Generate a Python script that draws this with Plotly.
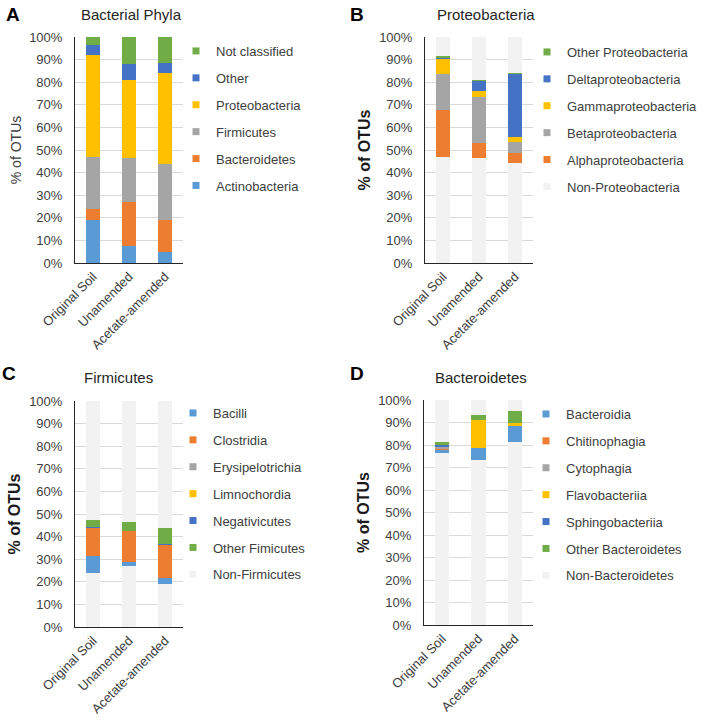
import plotly.graph_objects as go

# ---------------- data ----------------
categories = ["Original Soil", "Unamended", "Acetate-amended"]

# Panel A - Bacterial Phyla (% of OTUs), bottom to top
actinobacteria = [19.0, 7.4, 5.0]
bacteroidetes = [4.9, 19.6, 14.0]
firmicutes = [23.0, 19.3, 25.0]
proteobacteria = [45.0, 34.5, 40.0]
other_phyla = [4.4, 7.4, 4.6]
not_classified = [3.7, 11.8, 11.4]

# Panel B - Proteobacteria
non_proteo_below = [47.0, 46.6, 44.1]
alphaproteo = [20.7, 6.6, 4.4]
betaproteo = [15.8, 20.3, 5.2]
gammaproteo = [7.1, 2.6, 2.2]
deltaproteo = [0.4, 4.7, 28.0]
other_proteo = [0.6, 0.1, 0.1]
non_proteo_above = [8.4, 19.1, 16.0]

# Panel C - Firmicutes
non_firm_below = [23.9, 27.0, 19.0]
bacilli = [7.4, 1.9, 2.5]
clostridia = [12.6, 13.6, 15.2]
erysipelotrichia = [0.1, 0.0, 0.0]
limnochordia = [0.0, 0.0, 0.0]
negativicutes = [0.1, 0.0, 0.1]
other_firm = [3.1, 4.0, 7.2]
non_firm_above = [52.8, 53.5, 56.0]

# Panel D - Bacteroidetes
non_bact_below = [76.3, 73.3, 81.2]
bacteroidia = [1.8, 5.5, 7.4]
chitinophagia = [0.3, 0.0, 0.0]
cytophagia = [0.9, 0.0, 0.0]
flavobacteriia = [0.2, 12.3, 1.4]
sphingobacteriia = [0.6, 0.0, 0.0]
other_bact = [1.1, 2.1, 5.2]
non_bact_above = [18.8, 6.8, 4.8]

y_ticks = [0, 10, 20, 30, 40, 50, 60, 70, 80, 90, 100]
y_tick_labels = ["0%", "10%", "20%", "30%", "40%", "50%", "60%", "70%", "80%", "90%", "100%"]

# ---------------- styles ----------------
BLUE = "#5B9BD5"
ORANGE = "#ED7D31"
GRAY = "#A5A5A5"
GOLD = "#FFC000"
DBLUE = "#4472C4"
GREEN = "#70AD47"
LIGHT = "#F2F2F2"
FONT = "Liberation Sans, Arial, sans-serif"
TXT = "#404040"

W, H = 709, 724

panels = [
    dict(
        ax="", legend="legend", title="Bacterial Phyla", letter="A", ybold=False,
        stack=[("Actinobacteria", actinobacteria, BLUE),
               ("Bacteroidetes", bacteroidetes, ORANGE),
               ("Firmicutes", firmicutes, GRAY),
               ("Proteobacteria", proteobacteria, GOLD),
               ("Other", other_phyla, DBLUE),
               ("Not classified", not_classified, GREEN)],
        legend_order=[("Not classified", GREEN), ("Other", DBLUE),
                      ("Proteobacteria", GOLD), ("Firmicutes", GRAY),
                      ("Bacteroidetes", ORANGE), ("Actinobacteria", BLUE)],
        xdom=(75, 183), ydom=(37, 263), leg=(176, 36),
        title_pos=(131, 15), letter_pos=(13, 15),
    ),
    dict(
        ax="2", legend="legend2", title="Proteobacteria", letter="B", ybold=True,
        stack=[("Non-Proteobacteria", non_proteo_below, LIGHT),
               ("Alphaproteobacteria", alphaproteo, ORANGE),
               ("Betaproteobacteria", betaproteo, GRAY),
               ("Gammaproteobacteria", gammaproteo, GOLD),
               ("Deltaproteobacteria", deltaproteo, DBLUE),
               ("Other Proteobacteria", other_proteo, GREEN),
               ("Non-Proteobacteria", non_proteo_above, LIGHT)],
        legend_order=[("Other Proteobacteria", GREEN), ("Deltaproteobacteria", DBLUE),
                      ("Gammaproteobacteria", GOLD), ("Betaproteobacteria", GRAY),
                      ("Alphaproteobacteria", ORANGE), ("Non-Proteobacteria", LIGHT)],
        xdom=(425, 533), ydom=(37, 263), leg=(527, 37),
        title_pos=(486, 15), letter_pos=(357, 15),
    ),
    dict(
        ax="3", legend="legend3", title="Firmicutes", letter="C", ybold=True,
        stack=[("Non-Firmicutes", non_firm_below, LIGHT),
               ("Bacilli", bacilli, BLUE),
               ("Clostridia", clostridia, ORANGE),
               ("Erysipelotrichia", erysipelotrichia, GRAY),
               ("Limnochordia", limnochordia, GOLD),
               ("Negativicutes", negativicutes, DBLUE),
               ("Other Fimicutes", other_firm, GREEN),
               ("Non-Firmicutes", non_firm_above, LIGHT)],
        legend_order=[("Bacilli", BLUE), ("Clostridia", ORANGE),
                      ("Erysipelotrichia", GRAY), ("Limnochordia", GOLD),
                      ("Negativicutes", DBLUE), ("Other Fimicutes", GREEN),
                      ("Non-Firmicutes", LIGHT)],
        xdom=(75, 183), ydom=(401, 627), leg=(173, 398),
        title_pos=(118, 377), letter_pos=(9, 374),
    ),
    dict(
        ax="4", legend="legend4", title="Bacteroidetes", letter="D", ybold=True,
        stack=[("Non-Bacteroidetes", non_bact_below, LIGHT),
               ("Bacteroidia", bacteroidia, BLUE),
               ("Chitinophagia", chitinophagia, ORANGE),
               ("Cytophagia", cytophagia, GRAY),
               ("Flavobacteriia", flavobacteriia, GOLD),
               ("Sphingobacteriia", sphingobacteriia, DBLUE),
               ("Other Bacteroidetes", other_bact, GREEN),
               ("Non-Bacteroidetes", non_bact_above, LIGHT)],
        legend_order=[("Bacteroidia", BLUE), ("Chitinophagia", ORANGE),
                      ("Cytophagia", GRAY), ("Flavobacteriia", GOLD),
                      ("Sphingobacteriia", DBLUE), ("Other Bacteroidetes", GREEN),
                      ("Non-Bacteroidetes", LIGHT)],
        xdom=(424, 533), ydom=(400, 625), leg=(526, 399),
        title_pos=(481, 377), letter_pos=(357, 374),
    ),
]

fig = go.Figure()
annotations = []
layout = dict(
    width=W, height=H, margin=dict(l=0, r=0, t=0, b=0, autoexpand=False),
    paper_bgcolor="white", plot_bgcolor="white",
    barmode="stack", bargap=0.61, showlegend=True,
    font=dict(family=FONT, size=13, color=TXT),
)

for p in panels:
    xa = "x" + p["ax"]
    ya = "y" + p["ax"]
    for name, vals, col in p["stack"]:
        fig.add_trace(go.Bar(
            x=categories, y=vals, name=name, marker=dict(color=col, line=dict(width=0)),
            xaxis=xa, yaxis=ya, showlegend=False, legendgroup=p["ax"] + name,
            hovertemplate="%{x}<br>" + name + ": %{y}%<extra></extra>",
        ))
    for name, col in p["legend_order"]:
        fig.add_trace(go.Scatter(
            x=[None], y=[None], mode="markers", name=name,
            marker=dict(symbol="square", size=7, color=col),
            xaxis=xa, yaxis=ya, legend=p["legend"], legendgroup=p["ax"] + name,
            showlegend=True,
        ))
    x0, x1 = p["xdom"]
    yt, yb = p["ydom"]
    layout["xaxis" + p["ax"]] = dict(
        domain=[x0 / W, x1 / W], anchor=ya, type="category",
        categoryorder="array", categoryarray=categories,
        showline=True, linecolor="#262626", linewidth=1, showgrid=False,
        ticks="", tickangle=-45, tickfont=dict(size=13, color=TXT),
        automargin=False, fixedrange=True,
    )
    layout["yaxis" + p["ax"]] = dict(
        domain=[1 - yb / H, 1 - yt / H], anchor=xa, range=[0, 100],
        tickmode="array", tickvals=y_ticks, ticktext=y_tick_labels,
        showgrid=True, gridcolor="#D9D9D9",
        gridwidth=1, showline=True, linecolor="#262626", linewidth=1,
        zeroline=False, ticks="", ticklabelstandoff=9,
        tickfont=dict(size=13, color=TXT), automargin=False,
        title=dict(
            text="<b>% of OTUs</b>" if p["ybold"] else "% of OTUs",
            font=dict(size=16 if p["ybold"] else 14, color="#1a1a1a" if p["ybold"] else TXT),
            standoff=4,
        ),
        fixedrange=True,
    )
    lx, ly = p["leg"]
    layout[p["legend"]] = dict(
        x=lx / W, y=1 - ly / H, xanchor="left", yanchor="top",
        traceorder="grouped", tracegroupgap=7,
        font=dict(size=13, color=TXT), bgcolor="rgba(0,0,0,0)",
        itemclick=False, itemdoubleclick=False,
    )
    tx, ty = p["title_pos"]
    annotations.append(dict(
        text=p["title"], x=tx / W, y=1 - ty / H, xref="paper", yref="paper",
        xanchor="center", yanchor="middle", showarrow=False,
        font=dict(size=15, color="#262626", family=FONT),
    ))
    lx2, ly2 = p["letter_pos"]
    annotations.append(dict(
        text="<b>" + p["letter"] + "</b>", x=lx2 / W, y=1 - ly2 / H, xref="paper", yref="paper",
        xanchor="center", yanchor="middle", showarrow=False,
        font=dict(size=19, color="black", family=FONT),
    ))

layout["annotations"] = annotations
fig.update_layout(**layout)
fig.write_html("out.html")
